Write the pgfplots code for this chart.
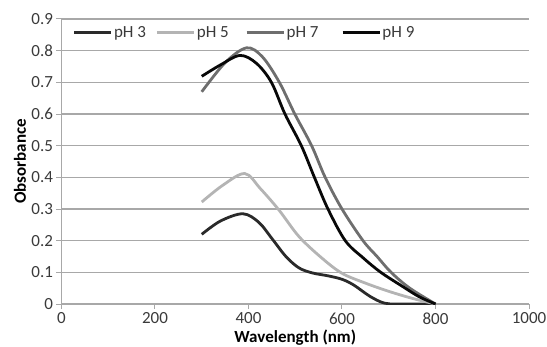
\documentclass[border=0pt]{standalone}
\usepackage{pgfplots}
\pgfplotsset{compat=1.18}
\usepackage{fontspec}
\setmainfont{Carlito}
\definecolor{cA}{HTML}{2A2A2A}
\definecolor{cB}{HTML}{B4B4B4}
\definecolor{cC}{HTML}{6E6E6E}
\definecolor{cD}{HTML}{080808}
\definecolor{gridc}{HTML}{A8A8A8}
\definecolor{txt}{HTML}{3A3A3A}
\begin{document}
\begin{tikzpicture}
\path[use as bounding box] (-61.5pt,-42pt) rectangle (485.5pt,304pt);
\begin{axis}[
  at={(0,0)}, anchor=south west,
  scale only axis, width=467.5pt, height=285pt,
  xmin=0, xmax=1000, ymin=0, ymax=0.9,
  xtick={0,200,400,600,800,1000},
  ytick={0,0.1,0.2,0.3,0.4,0.5,0.6,0.7,0.8,0.9},
  yticklabels={0,0.1,0.2,0.3,0.4,0.5,0.6,0.7,0.8,0.9},
  xticklabels={0,200,400,600,800,1000},
  axis lines=left,
  axis line style={-, gridc, line width=1.2pt},
  tick align=outside,
  major tick length=5pt,
  tick style={gridc, line width=1pt},
  ymajorgrids,
  grid style={gridc, line width=1.3pt},
  tick label style={font=\fontsize{17}{19}\selectfont, text=txt},
  xlabel={\textbf{Wavelength (nm)}},
  ylabel={\textbf{Obsorbance}},
  label style={font=\fontsize{17}{19}\selectfont, text=black},
  xlabel style={at={(axis description cs:0.5,-0.1170)}, anchor=center},
  ylabel style={at={(axis description cs:-0.0888,0.5)}, anchor=center},
  legend columns=4,
  legend style={draw=none, fill=none, font=\fontsize{17}{19}\selectfont, text=txt,
    at={(rel axis cs:0.0241,0.9533)}, anchor=west,
    inner sep=0pt, outer sep=0pt,
    nodes={inner xsep=1.5pt}},
  legend image code/.code={\draw[#1, line width=2.8pt] (0pt,0pt) -- (37pt,0pt);},
  every axis plot/.append style={line width=2.8pt, smooth, tension=0.55},
]
\addplot[cA] coordinates {
(300,0.220) (340,0.262) (388,0.285) (422,0.258) (451,0.205) (480,0.150)
(508,0.114) (537,0.098) (570,0.089) (600,0.078) (625,0.060) (660,0.024)
(690,0.003) (720,0) (800,0)
};
\addlegendentry{pH 3\hspace*{8pt}}
\addplot[cB] coordinates {
(300,0.322) (345,0.375) (392,0.412) (425,0.365) (465,0.297) (508,0.213)
(557,0.145) (600,0.097) (650,0.066) (700,0.040) (750,0.018) (800,0)
};
\addlegendentry{pH 5\hspace*{15pt}}
\addplot[cC] coordinates {
(300,0.670) (350,0.762) (396,0.809) (430,0.780) (466,0.700) (499,0.600)
(535,0.500) (564,0.400) (600,0.300) (645,0.200) (675,0.150) (705,0.100)
(745,0.050) (800,0)
};
\addlegendentry{pH 7\hspace*{21pt}}
\addplot[cD] coordinates {
(300,0.719) (340,0.755) (382,0.785) (417,0.760) (449,0.700) (478,0.600)
(513,0.500) (541,0.400) (570,0.300) (607,0.200) (645,0.146) (683,0.100)
(730,0.055) (765,0.023) (800,0)
};
\addlegendentry{pH 9}
\end{axis}
\end{tikzpicture}
\end{document}
